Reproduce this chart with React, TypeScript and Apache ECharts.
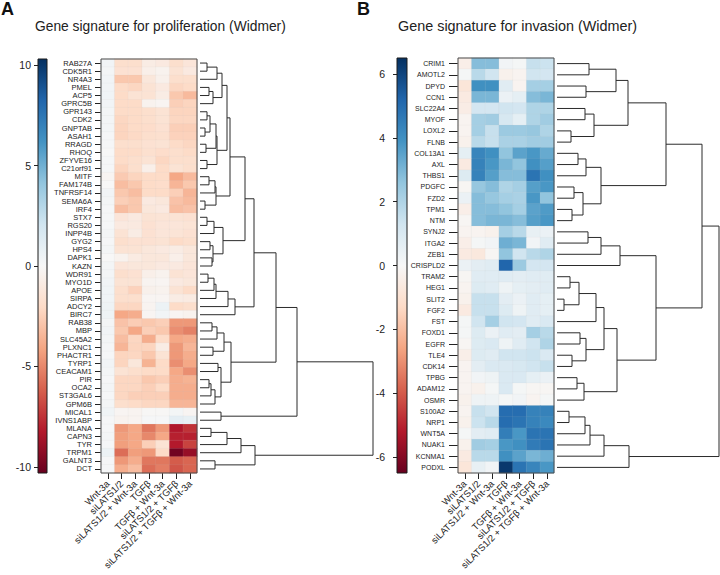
import React, { useEffect, useRef } from "react";
import * as echarts from "echarts";

const conditions = [
  "Wnt-3a",
  "siLATS1/2",
  "siLATS1/2 + Wnt-3a",
  "TGFβ",
  "TGFβ + Wnt-3a",
  "siLATS1/2 + TGFβ",
  "siLATS1/2 + TGFβ + Wnt-3a",
];

const prolifGenes = [
  "RAB27A", "CDK5R1", "NR4A3", "PMEL", "ACP5", "GPRC5B", "GPR143", "CDK2", "GNPTAB", "ASAH1",
  "RRAGD", "RHOQ", "ZFYVE16", "C21orf91", "MITF", "FAM174B", "TNFRSF14", "SEMA6A", "IRF4", "STX7",
  "RGS20", "INPP4B", "GYG2", "HPS4", "DAPK1", "KAZN", "WDR91", "MYO1D", "APOE", "SIRPA",
  "ADCY2", "BIRC7", "RAB38", "MBP", "SLC45A2", "PLXNC1", "PHACTR1", "TYRP1", "CEACAM1", "PIR",
  "OCA2", "ST3GAL6", "GPM6B", "MICAL1", "IVNS1ABP", "MLANA", "CAPN3", "TYR", "TRPM1", "GALNT3", "DCT",
];

const prolifValues = [
  [0.3, -1.8, -1.8, -0.8, -1.0, -1.8, -1.3],
  [0.2, -1.6, -1.6, -0.6, -0.4, -1.5, -1.0],
  [0.3, -2.8, -2.8, -1.2, -0.5, -1.8, -1.8],
  [0.3, -2.0, -2.2, -1.5, -1.0, -2.2, -2.0],
  [0.4, -2.0, -1.5, -1.5, -0.8, -2.8, -3.3],
  [0.3, -2.0, -2.0, -0.4, -0.2, -2.5, -2.3],
  [0.2, -2.0, -2.0, -1.8, -1.5, -2.3, -2.3],
  [0.2, -2.2, -2.0, -1.8, -1.5, -2.2, -2.2],
  [0.2, -2.3, -2.0, -1.9, -1.6, -2.5, -2.5],
  [0.1, -2.3, -2.1, -1.8, -1.7, -2.4, -2.4],
  [0.1, -1.8, -1.8, -1.6, -1.5, -2.0, -2.2],
  [0.0, -2.0, -2.0, -1.7, -1.9, -1.8, -2.0],
  [0.1, -2.0, -1.8, -1.5, -2.2, -1.8, -1.8],
  [0.1, -2.3, -1.8, -0.6, -2.0, -1.5, -1.8],
  [-0.2, -2.7, -2.3, -2.0, -2.0, -4.0, -3.3],
  [0.0, -3.2, -2.8, -2.0, -1.9, -3.5, -2.8],
  [0.3, -2.8, -3.2, -2.0, -2.0, -2.5, -3.5],
  [0.2, -2.5, -2.8, -1.0, -1.2, -3.0, -3.3],
  [0.1, -3.2, -2.8, -1.2, -1.0, -3.2, -3.0],
  [0.1, -1.3, -1.0, -1.5, -1.4, -1.5, -1.6],
  [0.1, -1.0, -1.0, -1.6, -1.3, -1.3, -1.4],
  [0.2, -1.5, -0.8, -1.6, -1.3, -1.4, -1.6],
  [0.1, -1.8, -1.6, -1.6, -1.5, -2.0, -1.8],
  [0.2, -1.5, -1.5, -1.2, -1.0, -0.8, -1.2],
  [0.0, -0.4, -0.9, -1.2, -1.2, -0.6, -1.2],
  [0.2, -1.3, -1.2, -1.2, -1.0, -1.0, -1.3],
  [0.2, -1.8, -1.6, -0.6, -0.4, -1.5, -1.3],
  [0.3, -1.5, -1.5, -0.3, -0.2, -1.0, -1.2],
  [0.4, -1.8, -2.4, -0.5, -0.4, -1.5, -2.0],
  [0.4, -1.8, -1.8, -0.2, -0.2, -0.8, -0.9],
  [0.5, -2.2, -2.2, -0.3, 0.6, -2.0, -1.8],
  [0.5, -4.0, -3.8, -0.2, 0.3, -0.2, -0.4],
  [0.2, -3.0, -2.6, -2.8, -2.5, -4.5, -4.5],
  [0.3, -2.8, -4.0, -2.5, -2.8, -4.8, -5.2],
  [0.2, -3.2, -2.2, -3.8, -2.0, -4.0, -3.8],
  [0.1, -3.5, -2.3, -2.3, -0.8, -4.5, -3.5],
  [0.1, -2.3, -2.2, -2.8, -1.5, -4.5, -3.8],
  [0.3, -2.3, -1.2, -3.6, -2.0, -4.8, -4.0],
  [0.2, -1.5, -1.8, -2.0, -2.0, -4.0, -4.8],
  [0.1, -2.2, -2.2, -2.8, -2.5, -3.8, -3.6],
  [0.2, -2.2, -2.2, -2.5, -2.0, -3.8, -3.8],
  [0.1, -2.2, -2.5, -2.5, -2.5, -3.8, -3.8],
  [0.2, -1.8, -2.0, -2.2, -2.2, -3.5, -3.5],
  [0.4, -0.2, -0.3, -0.1, -0.1, 0.2, -0.2],
  [0.1, -0.4, -0.3, 0.1, 0.1, 1.0, 0.8],
  [0.1, -4.5, -4.0, -5.5, -4.5, -8.3, -7.5],
  [0.2, -4.3, -4.0, -5.0, -4.0, -8.0, -8.0],
  [0.1, -4.3, -4.0, -2.5, -1.5, -8.2, -7.0],
  [0.6, -5.8, -4.3, -4.5, -2.0, -10.0, -9.0],
  [0.1, -4.5, -3.8, -5.5, -5.5, -6.3, -6.0],
  [0.1, -3.8, -3.2, -5.8, -5.3, -6.5, -6.0],
];

const invasionGenes = [
  "CRIM1", "AMOTL2", "DPYD", "CCN1", "SLC22A4", "MYOF", "LOXL2", "FLNB", "COL13A1", "AXL",
  "THBS1", "PDGFC", "FZD2", "TPM1", "NTM", "SYNJ2", "ITGA2", "ZEB1", "CRISPLD2", "TRAM2",
  "HEG1", "SLIT2", "FGF2", "FST", "FOXD1", "EGFR", "TLE4", "CDK14", "TPBG", "ADAM12",
  "OSMR", "S100A2", "NRP1", "WNT5A", "NUAK1", "KCNMA1", "PODXL",
];

const invasionValues = [
  [-0.4, 2.8, 2.8, 0.2, 0.1, 1.5, 1.4],
  [0.1, 1.8, 1.3, -0.3, -0.2, 1.3, 1.2],
  [-0.8, 4.0, 4.0, 0.8, -0.2, 2.2, 2.2],
  [-0.6, 3.0, 3.0, 0.4, 0.6, 2.8, 3.0],
  [-0.5, 1.2, 1.2, 1.3, 1.2, 2.0, 2.0],
  [-0.2, 2.2, 2.3, 1.1, 0.6, 2.0, 2.3],
  [-0.2, 2.2, 1.5, 2.4, 2.4, 2.5, 2.0],
  [-0.3, 1.8, 1.5, 2.1, 2.1, 2.3, 2.3],
  [0.6, 4.3, 4.0, 2.6, 3.5, 3.8, 3.3],
  [-0.6, 4.4, 3.8, 3.0, 2.6, 4.0, 3.6],
  [0.9, 4.4, 3.6, 2.8, 2.8, 4.8, 4.0],
  [-0.1, 2.5, 2.8, 2.0, 2.2, 3.6, 3.8],
  [0.4, 2.8, 2.5, 2.2, 2.1, 3.8, 2.6],
  [-0.4, 2.8, 2.8, 2.6, 2.2, 3.5, 3.7],
  [-0.1, 2.8, 3.0, 3.0, 2.8, 3.6, 3.8],
  [-0.2, -0.2, -0.3, 2.2, 1.8, 0.5, 0.4],
  [-0.4, 0.1, 0.2, 3.2, 3.0, 0.2, 0.8],
  [-0.6, -0.7, -0.1, 2.6, 1.3, 1.8, 2.0],
  [0.4, 0.7, 0.8, 5.2, 2.4, 1.2, 1.2],
  [-0.1, 0.8, 0.8, 0.8, 0.7, 0.8, 0.8],
  [-0.2, 0.9, 0.8, 0.3, 0.6, 0.7, 0.8],
  [-0.3, 1.5, 1.5, 0.7, 0.4, 0.8, 0.6],
  [-0.6, 1.5, 1.5, 0.9, 0.3, 0.8, 0.6],
  [0.1, 1.3, 2.2, 1.3, 1.2, 0.8, 1.0],
  [0.1, 0.9, 0.4, 0.8, 0.7, 2.2, 1.8],
  [-0.1, 0.9, 1.0, 0.3, 0.8, 1.3, 2.0],
  [-0.4, 0.9, 0.8, 1.3, 1.3, 1.4, 1.0],
  [-0.2, 0.7, 1.0, 1.0, 1.1, 1.3, 1.5],
  [-0.2, 0.2, 0.3, 1.0, 1.0, 0.6, 0.4],
  [-0.2, -0.3, 0.1, 1.0, 0.1, -0.1, -0.1],
  [-0.3, 0.3, 0.3, 0.1, 0.2, -0.2, 0.1],
  [-0.2, 1.5, 1.3, 5.0, 5.0, 4.4, 4.4],
  [-0.3, 1.4, 1.8, 5.0, 4.8, 4.4, 4.2],
  [0.1, 0.7, 0.8, 4.5, 3.8, 4.8, 4.8],
  [-0.3, 2.3, 2.2, 3.8, 4.0, 4.6, 4.8],
  [-0.6, 1.8, 1.8, 4.0, 3.5, 3.0, 3.2],
  [-0.8, 0.5, 0.2, 6.3, 4.8, 4.3, 3.8],
];

// dendrograms: node = [height, left, right]; leaf = row index
type Tree = number | [number, Tree, Tree];

const prolifTree: Tree = [173,
  [97,
    [76,
      [54,
        [45,
          [30,
            [27,
              [22, [17, [7, 0, 1], 2], [13, [9, 3, 4], 5]],
              [17, [16, [10, [7, 6, 7], [5, 8, 9]], [6, 10, 11]], [7, 12, 13]]],
            [16, [15, [9, 14, 15], 16], [5, 17, 18]]],
          [23, [14, [7, 19, 20], 21], [13, [10, 22, 23], [12, 24, 25]]]],
        [35, [28, [16, [14, [8, 26, 27], 28], 29], 30], 31]],
      [31,
        [24, [17, [12, 32, 33], 34], [13, 35, 36]],
        [21, [18, 37, 38], [15, [11, [9, 39, 40], 41], 42]]]],
    [21, 43, 44]],
  [55, [41, [27, [11, 45, 46], 47], 48], [15, 49, 50]]];

const invasionTree: Tree = [162,
  [145,
    [109,
      [71, [59, [32, 0, 1], [29, 2, 3]], [37, [28, 4, 5], [14, 6, 7]]],
      [44, [29, [21, 8, 9], 10], [26, [17, 11, 12], [15, 13, 14]]]],
    [99,
      [63, [44, [31, 15, 16], 17], 18],
      [60,
        [47, [39, [22, [13, 19, 20], [7, 21, 22]], 23], [29, [23, 24, 25], [15, 26, 27]]],
        [27, [20, 28, 29], 30]]]],
  [72, [47, [33, [28, [12, 31, 32], 33], 34], 35], 36]];

const prolifLimit = 10.3;
const invasionLimit = 6.5;
const prolifTicks = [-10, -5, 0, 5, 10];
const invasionTicks = [-6, -4, -2, 0, 2, 4, 6];

const palette = [
  "#67001f", "#b2182b", "#d6604d", "#f4a582", "#fddbc7", "#f7f7f7",
  "#d1e5f0", "#92c5de", "#4393c3", "#2166ac", "#053061",
];

const FONT = "'Liberation Sans', Arial, Helvetica, sans-serif";
const INK = "#222";

function dendroSegments(tree: Tree) {
  const segs: number[][][] = [];
  const walk = (node: Tree): { h: number; y: number } => {
    if (typeof node === "number") return { h: 0, y: node + 0.5 };
    const [h, l, r] = node;
    const a = walk(l);
    const b = walk(r);
    segs.push([[a.h, a.y], [h, a.y], [h, b.y], [b.h, b.y]]);
    return { h, y: (a.y + b.y) / 2 };
  };
  walk(tree);
  return segs;
}

type PanelCfg = {
  genes: string[];
  values: number[][];
  tree: Tree;
  limit: number;
  ticks: number[];
  top: number;
  height: number;
  cbLeft: number;
  cbWidth: number;
  cbOffset: number;
  hmLeft: number;
  hmWidth: number;
  dgLeft: number;
  dgWidth: number;
  geneFont: number;
  geneTick: number;
  geneMargin: number;
};

function buildPanel(cfg: PanelCfg, base: number, seriesBase: number) {
  const grids = [
    { left: cfg.cbLeft, top: cfg.top, width: cfg.cbWidth, height: cfg.height },
    {
      left: cfg.hmLeft, top: cfg.top, width: cfg.hmWidth, height: cfg.height,
      show: true, borderColor: "#4a4a4a", borderWidth: 1, backgroundColor: "transparent", z: 10,
    },
    { left: cfg.dgLeft, top: cfg.top, width: cfg.dgWidth, height: cfg.height },
  ];
  const xAxes = [
    { gridIndex: base, type: "value", min: 0, max: 1, show: false },
    {
      gridIndex: base + 1, type: "category", data: conditions, position: "bottom",
      axisLine: { show: false },
      axisTick: { show: true, alignWithLabel: true, length: 6, lineStyle: { color: INK, width: 1 } },
      axisLabel: { rotate: 45, interval: 0, fontSize: 9.5, margin: 9, color: INK, fontFamily: FONT },
      splitLine: { show: false },
    },
    { gridIndex: base + 2, type: "value", min: 0, max: (cfg.tree as any)[0], show: false },
  ];
  const yAxes = [
    {
      gridIndex: base, type: "value", min: -cfg.limit, max: cfg.limit, position: "left",
      offset: cfg.cbOffset,
      axisLine: { show: false },
      splitLine: { show: false },
      axisTick: { show: true, length: 4, customValues: cfg.ticks, lineStyle: { color: INK } },
      axisLabel: {
        customValues: cfg.ticks, fontSize: 10.5, margin: 6, color: INK, fontFamily: FONT,
        formatter: (v: number) => String(v),
      },
    },
    {
      gridIndex: base + 1, type: "category", data: cfg.genes, inverse: true,
      axisLine: { show: false },
      axisTick: { show: true, alignWithLabel: true, length: cfg.geneTick, lineStyle: { color: INK } },
      axisLabel: { interval: 0, fontSize: cfg.geneFont, margin: cfg.geneMargin, color: INK, fontFamily: FONT },
      splitLine: { show: false },
    },
    { gridIndex: base + 2, type: "value", min: 0, max: cfg.genes.length, inverse: true, show: false },
  ];

  const gradient = new echarts.graphic.LinearGradient(
    0, 0, 0, 1,
    palette.slice().reverse().map((c, i) => ({ offset: i / (palette.length - 1), color: c }))
  );

  const heatData: number[][] = [];
  cfg.values.forEach((row, r) => row.forEach((v, c) => heatData.push([c, r, v])));

  const series = [
    {
      type: "custom",
      xAxisIndex: base,
      yAxisIndex: base,
      data: [[-cfg.limit, cfg.limit]],
      renderItem: (_p: any, api: any) => {
        const p0 = api.coord([0, api.value(1)]);
        const p1 = api.coord([1, api.value(0)]);
        return {
          type: "rect",
          shape: { x: p0[0], y: p0[1], width: p1[0] - p0[0], height: p1[1] - p0[1] },
          style: { fill: gradient, stroke: "#1a1a1a", lineWidth: 1 },
        };
      },
      silent: true,
    },
    {
      type: "heatmap",
      xAxisIndex: base + 1,
      yAxisIndex: base + 1,
      data: heatData,
      itemStyle: { borderColor: "rgba(200,200,200,0.18)", borderWidth: 0.5 },
      silent: true,
    },
    {
      type: "lines",
      coordinateSystem: "cartesian2d",
      xAxisIndex: base + 2,
      yAxisIndex: base + 2,
      polyline: true,
      clip: false,
      silent: true,
      data: dendroSegments(cfg.tree).map((coords) => ({ coords })),
      lineStyle: { color: "#2b2b2b", width: 1, opacity: 1 },
    },
  ];

  const visualMap = {
    type: "continuous",
    show: false,
    min: -cfg.limit,
    max: cfg.limit,
    dimension: 2,
    seriesIndex: seriesBase + 1,
    inRange: { color: palette },
  };

  return { grids, xAxes, yAxes, series, visualMap };
}

function buildOption() {
  const a = buildPanel(
    {
      genes: prolifGenes, values: prolifValues, tree: prolifTree, limit: prolifLimit, ticks: prolifTicks,
      top: 59, height: 414, cbLeft: 38, cbWidth: 9, cbOffset: 1,
      hmLeft: 101, hmWidth: 96, dgLeft: 200, dgWidth: 173,
      geneFont: 7.5, geneTick: 6, geneMargin: 9,
    },
    0, 0
  );
  const b = buildPanel(
    {
      genes: invasionGenes, values: invasionValues, tree: invasionTree, limit: invasionLimit, ticks: invasionTicks,
      top: 58, height: 415, cbLeft: 397, cbWidth: 10, cbOffset: 6,
      hmLeft: 458, hmWidth: 96, dgLeft: 557, dgWidth: 162,
      geneFont: 7, geneTick: 9, geneMargin: 13,
    },
    3, 3
  );

  return {
    animation: false,
    backgroundColor: "#ffffff",
    textStyle: { fontFamily: FONT },
    title: [
      { text: "A", left: 1, top: 0, padding: 0, textStyle: { fontSize: 18, fontWeight: "bold", color: "#111", fontFamily: FONT } },
      { text: "Gene signature for proliferation (Widmer)", left: 35, top: 19, padding: 0, textStyle: { fontSize: 13.8, fontWeight: "normal", color: INK, fontFamily: FONT } },
      { text: "B", left: 357, top: 0, padding: 0, textStyle: { fontSize: 18, fontWeight: "bold", color: "#111", fontFamily: FONT } },
      { text: "Gene signature for invasion (Widmer)", left: 398, top: 19, padding: 0, textStyle: { fontSize: 14.4, fontWeight: "normal", color: INK, fontFamily: FONT } },
    ],
    grid: [...a.grids, ...b.grids],
    xAxis: [...a.xAxes, ...b.xAxes],
    yAxis: [...a.yAxes, ...b.yAxes],
    visualMap: [a.visualMap, b.visualMap],
    series: [...a.series, ...b.series],
  };
}

export default function App() {
  const ref = useRef<HTMLDivElement>(null);
  useEffect(() => {
    if (!ref.current) return;
    const chart = echarts.init(ref.current, null, { renderer: "svg" });
    chart.setOption(buildOption() as any);
    return () => chart.dispose();
  }, []);
  return (
    <div
      ref={ref}
      style={{ position: "fixed", left: 0, top: 0, width: 720, height: 575, background: "#fff" }}
    />
  );
}
